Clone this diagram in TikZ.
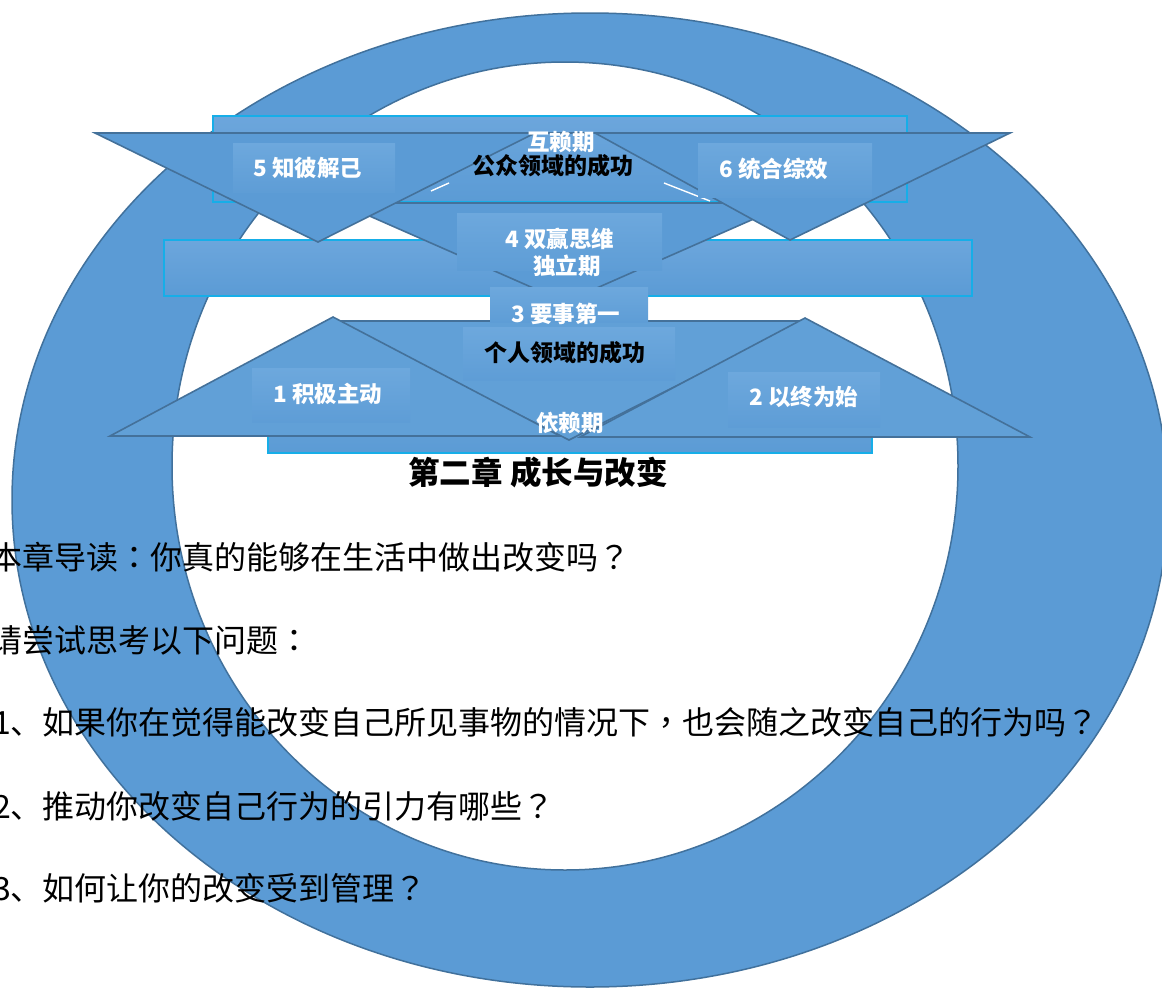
\documentclass[tikz,border=0pt]{standalone}
\usepackage{fontspec}
\newfontfamily\cjk{Noto Sans CJK SC}
\newfontfamily\cjktc{Noto Sans CJK TC}
\newcommand{\pc}[1]{{\cjktc #1}}
\definecolor{ringblue}{HTML}{5B9BD5}
\definecolor{ringedge}{HTML}{41719C}
\definecolor{cyanedge}{HTML}{16AEE8}
\definecolor{bandtop}{HTML}{6CA6DC}
\definecolor{bandbot}{HTML}{5B9BD5}
\definecolor{triblue}{HTML}{5B9BD5}
\definecolor{trilight}{HTML}{61A0D7}
\definecolor{triedge}{HTML}{44719A}
\definecolor{boxtop}{HTML}{6DA8DD}
\definecolor{boxbot}{HTML}{5E9DD6}
\tikzset{
  band/.style={draw=cyanedge, line width=1.3pt, top color=bandtop, bottom color=bandbot},
  tri/.style={fill=triblue, draw=triedge, line width=1.6pt, line join=miter},
  trib/.style={fill=trilight, draw=triedge, line width=1.6pt, line join=miter},
  lbox/.style={top color=boxtop, bottom color=boxbot},
  wlab/.style={text=white, font=\cjk\bfseries\fontsize{22.5}{26}\selectfont, inner sep=0pt},
  blab/.style={text=black, font=\cjk\bfseries\fontsize{23}{26}\selectfont, inner sep=0pt},
  body/.style={text=black, anchor=west, font=\cjk\fontsize{32}{38}\selectfont, inner sep=0pt}
}
\begin{document}
\begin{tikzpicture}[x=1pt,y=-1pt]
\useasboundingbox (0,0) rectangle (1162,988);
% ring
\path[fill=ringblue, draw=ringedge, line width=1.5pt, even odd rule]
  (590,500) ellipse [x radius=578pt, y radius=487pt]
  (565,466) ellipse [x radius=393pt, y radius=404pt];
% back rectangles
\path[band] (213,116) rectangle (907,202);
\path[band] (268,380) rectangle (872,453);
\path[band] (164,240) rectangle (972,296);
% middle inverted triangles
\path[tri] (340,203) -- (790,203) -- (565,302) -- cycle;
\path[trib] (333,321) -- (805,321) -- (569,440) -- cycle;
% top inverted triangles
\path[tri] (95,133) -- (535,133) -- (318,242) -- cycle;
\path[tri] (595,133) -- (1010,133) -- (790,240) -- cycle;
\draw[triedge, line width=1.6pt] (535,133) -- (595,133);
% shadow gaps
\draw[white, line width=1.4pt] (431,191) -- (449,183);
\draw[white, line width=1.4pt] (664,183) -- (710,201);
% bottom triangles
\path[trib] (110,436) -- (560,436) -- (333,317) -- cycle;
\path[trib] (580,437) -- (1030,437) -- (805,318) -- cycle;
% label boxes
\path[lbox] (233,143) rectangle (395,192);
\path[lbox] (698,143) rectangle (872,197);
\path[lbox] (457,213) rectangle (662,270);
\path[lbox] (490,287) rectangle (648,322);
\path[lbox] (463,327) rectangle (675,380);
\path[lbox] (252,368) rectangle (410,422);
\path[lbox] (728,372) rectangle (880,427);
% labels
\node[wlab] (l5) at (308,168) {5 知彼解己};
\node[wlab] (l6) at (774,169) {6 统合综效};
\node[wlab] (hlq) at (561,142) {互赖期};
\node[blab] (ggly) at (553,166) {公众领域的成功};
\node[wlab] (l4) at (560,239) {4 双赢思维};
\node[wlab] (dlq) at (567,266) {独立期};
\node[wlab] (l3) at (566,314) {3 要事第一};
\node[blab] (grly) at (565,353) {个人领域的成功};
\node[wlab] (l1) at (328,394) {1 积极主动};
\node[wlab] (l2) at (804,397) {2 以终为始};
\node[wlab] (ylq) at (570,423) {依赖期};
\node[text=black, font=\cjk\bfseries\fontsize{31.5}{36}\selectfont, inner sep=0pt] (title) at (538,472) {第二章 成长与改变};
% body text
\node[body] (t1) at (-10,557) {本章导读\pc{：}你真的能够在生活中做出改变吗\pc{？}};
\node[body] (t2) at (-10,640) {请尝试思考以下问题\pc{：}};
\node[body] (t3) at (-7,722) {1、如果你在觉得能改变自己所见事物的情况下\pc{，}也会随之改变自己的行为吗\pc{？}};
\node[body] (t4) at (-7,806) {2、推动你改变自己行为的引力有哪些\pc{？}};
\node[body] (t5) at (-7,888) {3、如何让你的改变受到管理\pc{？}};
\end{tikzpicture}
\end{document}
